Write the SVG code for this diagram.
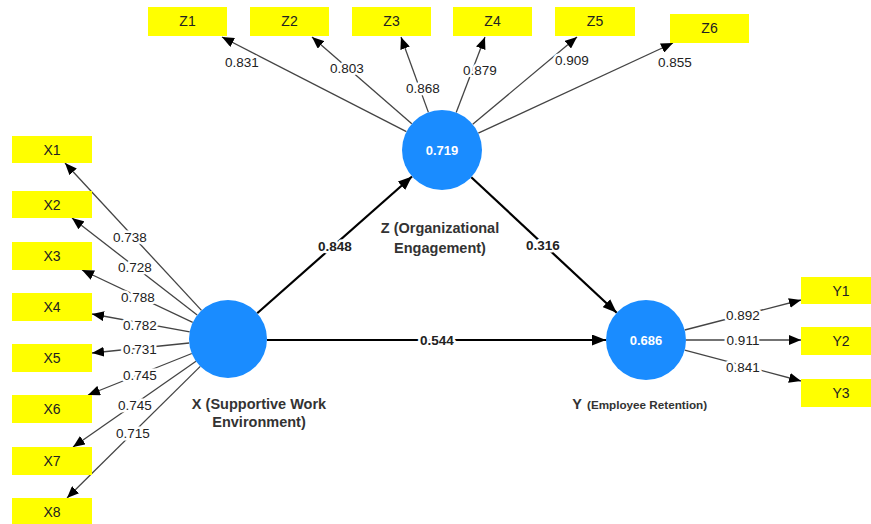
<svg xmlns="http://www.w3.org/2000/svg" width="871" height="524" viewBox="0 0 871 524">
<defs>
<marker id="ah" viewBox="0 0 12 10" refX="12" refY="5" markerWidth="12" markerHeight="10" orient="auto" markerUnits="userSpaceOnUse"><path d="M0,0 L12,5 L0,10 z" fill="#000"/></marker>
<marker id="ahb" viewBox="0 0 14 11" refX="14" refY="5.5" markerWidth="14" markerHeight="11" orient="auto" markerUnits="userSpaceOnUse"><path d="M0,0 L14,5.5 L0,11 z" fill="#000"/></marker>
<style>
.box{fill:#ffff00}
.bt{font-family:"Liberation Sans",Arial,sans-serif;font-size:14px;fill:#222;text-anchor:middle}
.ln{stroke:#444;stroke-width:1.3;fill:none;marker-end:url(#ah)}
.sl{stroke:#000;stroke-width:2.2;fill:none;marker-end:url(#ahb)}
.lv{font-family:"Liberation Sans",Arial,sans-serif;font-size:13.5px;fill:#222;text-anchor:middle;stroke:#fff;stroke-width:5;paint-order:stroke;stroke-linejoin:round}
.pv{font-family:"Liberation Sans",Arial,sans-serif;font-size:13.5px;font-weight:bold;fill:#222;text-anchor:middle;stroke:#fff;stroke-width:5;paint-order:stroke;stroke-linejoin:round}
.circ{fill:#1a8cff}
.cv{font-family:"Liberation Sans",Arial,sans-serif;font-size:13px;font-weight:bold;fill:#fff;text-anchor:middle}
.nm{font-family:"Liberation Sans",Arial,sans-serif;font-size:14.5px;font-weight:bold;fill:#333;text-anchor:middle}
.nms{font-family:"Liberation Sans",Arial,sans-serif;font-size:11.7px;font-weight:bold;fill:#333}
</style>
</defs>
<rect width="871" height="524" fill="#fff"/>
<g id="connectors">
<line class="ln" x1="201.5" y1="310.4" x2="65" y2="163"/>
<line class="ln" x1="197.2" y1="315.1" x2="72" y2="218"/>
<line class="ln" x1="192.7" y1="322.3" x2="82" y2="270"/>
<line class="ln" x1="189.7" y1="331.9" x2="92" y2="314"/>
<line class="ln" x1="189.2" y1="343" x2="92" y2="353"/>
<line class="ln" x1="191.8" y1="353.5" x2="88" y2="395"/>
<line class="ln" x1="196" y1="361.3" x2="73" y2="447"/>
<line class="ln" x1="200.3" y1="366.4" x2="67" y2="498"/>
<line class="ln" x1="406.4" y1="131.7" x2="222" y2="37"/>
<line class="ln" x1="411.8" y1="123.8" x2="312" y2="37"/>
<line class="ln" x1="428.4" y1="112.4" x2="401" y2="37"/>
<line class="ln" x1="456.2" y1="112.6" x2="485" y2="37"/>
<line class="ln" x1="472.7" y1="124.3" x2="577" y2="37"/>
<line class="ln" x1="478.3" y1="133.2" x2="673" y2="43"/>
<line class="ln" x1="684.7" y1="330" x2="801" y2="300"/>
<line class="ln" x1="686" y1="340" x2="801" y2="340"/>
<line class="ln" x1="684.7" y1="350.2" x2="801" y2="381"/>
<line class="sl" x1="257.2" y1="313.2" x2="412" y2="176.5"/>
<line class="sl" x1="471.3" y1="177.3" x2="616.7" y2="312.7"/>
<line class="sl" x1="267" y1="340" x2="606" y2="340"/>
<text class="lv" x="130" y="241.5">0.738</text>
<text class="lv" x="135" y="271.5">0.728</text>
<text class="lv" x="138" y="301.5">0.788</text>
<text class="lv" x="140" y="329.5">0.782</text>
<text class="lv" x="140" y="353.5">0.731</text>
<text class="lv" x="140" y="379.5">0.745</text>
<text class="lv" x="135" y="409.5">0.745</text>
<text class="lv" x="133" y="437.5">0.715</text>
<text class="lv" x="242" y="66.5">0.831</text>
<text class="lv" x="347" y="72.5">0.803</text>
<text class="lv" x="423" y="92.5">0.868</text>
<text class="lv" x="480" y="74.5">0.879</text>
<text class="lv" x="572" y="64.5">0.909</text>
<text class="lv" x="675" y="66.5">0.855</text>
<text class="lv" x="743" y="319.5">0.892</text>
<text class="lv" x="743" y="345">0.911</text>
<text class="lv" x="743" y="371.5">0.841</text>
<text class="pv" x="335" y="250.5">0.848</text>
<text class="pv" x="543" y="249.5">0.316</text>
<text class="pv" x="437" y="344.5">0.544</text>
</g>
<g id="X">
<circle class="circ" cx="228" cy="339" r="39"/>
<text class="nm" x="259" y="409">X (Supportive Work</text>
<text class="nm" x="259" y="427">Environment)</text>
</g>
<g id="Z">
<circle class="circ" cx="442" cy="150" r="40"/>
<text class="cv" x="442" y="155">0.719</text>
<text class="nm" x="440" y="233">Z (Organizational</text>
<text class="nm" x="440" y="253">Engagement)</text>
</g>
<g id="Y">
<circle class="circ" cx="646" cy="340" r="40"/>
<text class="cv" x="646" y="345">0.686</text>
<text class="nm" x="577" y="409">Y</text>
<text class="nms" x="587" y="409">(Employee Retention)</text>
</g>
<g id="X1"><rect class="box" x="12" y="136" width="80" height="27"/><text class="bt" x="52" y="154.5">X1</text></g>
<g id="X2"><rect class="box" x="12" y="191" width="80" height="27"/><text class="bt" x="52" y="209.5">X2</text></g>
<g id="X3"><rect class="box" x="12" y="242" width="80" height="28"/><text class="bt" x="52" y="261">X3</text></g>
<g id="X4"><rect class="box" x="12" y="293" width="80" height="28"/><text class="bt" x="52" y="312">X4</text></g>
<g id="X5"><rect class="box" x="12" y="344" width="80" height="28"/><text class="bt" x="52" y="363">X5</text></g>
<g id="X6"><rect class="box" x="12" y="395" width="80" height="28"/><text class="bt" x="52" y="414">X6</text></g>
<g id="X7"><rect class="box" x="12" y="447" width="80" height="28"/><text class="bt" x="52" y="466">X7</text></g>
<g id="X8"><rect class="box" x="12" y="498" width="80" height="28"/><text class="bt" x="52" y="517">X8</text></g>
<g id="Z1"><rect class="box" x="148" y="7" width="79" height="29"/><text class="bt" x="187.5" y="26">Z1</text></g>
<g id="Z2"><rect class="box" x="250" y="7" width="79" height="29"/><text class="bt" x="289.5" y="26">Z2</text></g>
<g id="Z3"><rect class="box" x="352" y="7" width="79" height="29"/><text class="bt" x="391.5" y="26">Z3</text></g>
<g id="Z4"><rect class="box" x="453" y="7" width="79" height="29"/><text class="bt" x="492.5" y="26">Z4</text></g>
<g id="Z5"><rect class="box" x="555" y="7" width="80" height="29"/><text class="bt" x="595" y="26">Z5</text></g>
<g id="Z6"><rect class="box" x="670" y="14" width="79" height="29"/><text class="bt" x="709.5" y="33">Z6</text></g>
<g id="Y1"><rect class="box" x="801" y="277" width="80" height="27"/><text class="bt" x="841" y="295.5">Y1</text></g>
<g id="Y2"><rect class="box" x="801" y="327" width="80" height="28"/><text class="bt" x="841" y="346">Y2</text></g>
<g id="Y3"><rect class="box" x="801" y="379" width="80" height="28"/><text class="bt" x="841" y="398">Y3</text></g>
</svg>
